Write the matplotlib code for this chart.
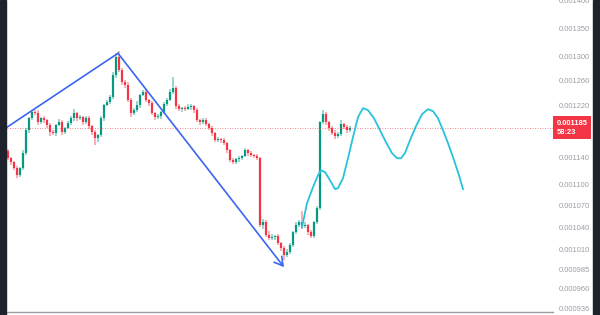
import numpy as np
import matplotlib.pyplot as plt
from matplotlib.patches import Rectangle
from matplotlib.ticker import FixedLocator, NullLocator
import matplotlib.transforms as mtransforms

plt.rcParams['font.family'] = ['Liberation Sans', 'DejaVu Sans']

# prices in units of 1e-6
first_open = 1150.0
closes = [
    1138.7, 1132.8, 1123.9, 1113.7, 1123.9, 1146.3, 1181.2, 1199.9, 1209.3, 1207.7,
    1193.6, 1199.9, 1196.8, 1189.0, 1178.1, 1176.6, 1189.0, 1193.6, 1178.1, 1184.4,
    1192.0, 1199.9, 1207.7, 1199.9, 1201.5, 1193.6, 1199.9, 1187.4, 1178.1, 1168.9,
    1173.5, 1199.9, 1220.5, 1225.2, 1233.3, 1269.2, 1299.5, 1277.6, 1257.7, 1252.8,
    1228.5, 1207.7, 1212.6, 1220.5, 1236.6, 1241.4, 1228.5, 1223.6, 1207.7, 1201.5,
    1203.1, 1209.3, 1222.0, 1228.5, 1241.4, 1247.9, 1218.9, 1214.2, 1215.8, 1214.2,
    1217.4, 1218.9, 1212.6, 1196.8, 1193.6, 1196.8, 1190.5, 1184.4, 1176.6, 1165.9,
    1167.4, 1165.9, 1161.4, 1150.8, 1135.9, 1132.8, 1137.4, 1138.7, 1141.8, 1150.8,
    1146.3, 1143.3, 1141.8, 1138.7, 1043.3, 1047.4, 1029.7, 1025.7, 1027.0, 1028.4,
    1019.0, 1012.4, 1003.1, 1007.1, 1016.3, 1033.8, 1043.3, 1047.4, 1042.0, 1043.3,
    1033.8, 1028.4, 1047.4, 1066.7, 1193.6, 1206.2, 1193.6, 1184.4, 1176.6, 1172.0,
    1175.0, 1190.5, 1185.9, 1181.2, 1185.0,
]
wick_hi = [
    3, 2, 2, 3, 2, 4, 3, 2, 4, 3,
    5, 2, 3, 2, 4, 3, 2, 5, 3, 2,
    3, 4, 6, 2, 3, 2, 4, 3, 2, 3,
    2, 3, 2, 4, 3, 5, 7, 10, 4, 3,
    5, 3, 4, 6, 2, 3, 6, 2, 3, 2,
    4, 2, 3, 4, 6, 18, 3, 4, 2, 3,
    5, 4, 2, 3, 2, 4, 3, 2, 3, 2,
    3, 2, 3, 2, 2, 3, 2, 4, 2, 4,
    2, 3, 2, 3, 2, 4, 3, 5, 4, 2,
    3, 2, 3, 4, 3, 2, 4, 3, 16, 4,
    2, 3, 2, 3, 2, 6, 3, 2, 3, 5,
    4, 6, 2, 3, 2,
]
wick_lo = [
    3, 4, 3, 4, 3, 2, 3, 4, 3, 3,
    4, 3, 5, 4, 6, 3, 4, 2, 5, 3,
    2, 3, 4, 5, 3, 4, 3, 4, 5, 10,
    5, 3, 4, 2, 3, 3, 4, 3, 5, 4,
    3, 6, 2, 3, 4, 2, 3, 5, 3, 4,
    3, 4, 2, 3, 2, 3, 4, 3, 5, 3,
    2, 4, 5, 3, 4, 3, 2, 3, 4, 3,
    3, 4, 3, 4, 3, 2, 3, 4, 3, 2,
    4, 3, 3, 2, 3, 5, 3, 2, 3, 4,
    3, 4, 6, 3, 2, 3, 2, 3, 4, 3,
    4, 3, 2, 3, 2, 3, 5, 4, 3, 4,
    3, 2, 3, 4, 3,
]

# drawings (bar index, price)
zig_x = [-0.33, 36.67, 92.0]
zig_y = [1185.9, 1306.3, 987.5]
proj_x = [98.0, 99.67, 101.67, 103.33, 104.33, 105.67, 107.33, 109.0, 110.0, 111.67,
          113.33, 115.0, 116.67, 118.33, 120.0, 122.0, 124.0, 126.0, 128.0, 129.67,
          131.0, 132.33, 134.0, 136.0, 138.0, 140.0, 141.67, 143.33, 145.0, 146.67,
          148.67, 150.33, 151.67]
proj_y = [1040.5, 1073.7, 1096.4, 1113.7, 1120.9, 1118.1, 1106.5, 1093.6, 1095.0, 1109.4,
          1138.7, 1170.5, 1201.5, 1215.8, 1212.6, 1199.9, 1181.2, 1162.8, 1146.3, 1138.7,
          1138.7, 1146.3, 1165.9, 1187.4, 1206.2, 1214.2, 1211.0, 1199.9, 1181.2, 1161.4,
          1135.9, 1113.7, 1093.6]

price_ticks = [1400, 1350, 1300, 1260, 1220, 1140, 1100, 1070, 1040, 1010, 985, 960, 936]
tick_labels = ['0.001400', '0.001350', '0.001300', '0.001260', '0.001220', '0.001140',
               '0.001100', '0.001070', '0.001040', '0.001010', '0.000985', '0.000960',
               '0.000936']
last_label = '0.001185'
timer_label = '58:23'

UP = '#089981'
DOWN = '#f23645'

fig = plt.figure(figsize=(6, 3.15), dpi=100)
fig.patch.set_facecolor('white')
ax = fig.add_axes([7 / 600, 3 / 315, 546 / 600, 312 / 315])
ax.set_yscale('log')

closes = np.array(closes)
opens = np.concatenate([[first_open], closes[:-1]])
x = np.arange(len(closes))
top = np.maximum(opens, closes)
bot = np.minimum(opens, closes)
highs = top + np.array(wick_hi)
lows = bot - np.array(wick_lo)
colors = [UP if c >= o else DOWN for o, c in zip(opens, closes)]

ax.vlines(x, lows, highs, colors=colors, lw=1.4, alpha=0.4)
ax.vlines(x, bot, np.maximum(top, bot + 0.8), colors=colors, lw=1.6)

ax.axhline(closes[-1], color=DOWN, lw=0.6, ls=(0, (1, 2)), alpha=0.8)

ax.plot(zig_x[:2], zig_y[:2], color='#3a66f0', lw=1.2, solid_capstyle='round')
ax.annotate('', xy=(zig_x[2], zig_y[2]), xytext=(zig_x[1], zig_y[1]),
            arrowprops=dict(arrowstyle='->,head_length=0.6,head_width=0.35',
                            color='#3a66f0', lw=1.2, shrinkA=0, shrinkB=0))
ax.plot(proj_x, proj_y, color='#27c3dc', lw=1.3)

ax.set_xlim(-0.333, 181.67)
ax.set_ylim(931.2, 1400.6)
ax.yaxis.tick_right()
ax.yaxis.set_major_locator(FixedLocator(price_ticks))
ax.yaxis.set_minor_locator(NullLocator())
ax.set_yticklabels(tick_labels)
ax.tick_params(axis='y', length=0, pad=4, labelsize=5.4, labelcolor='#9a9da6')
ax.set_xticks([])
for s in ['top', 'left', 'right']:
    ax.spines[s].set_visible(False)
ax.spines['bottom'].set_color('#9a9da6')
ax.spines['bottom'].set_linewidth(1.0)

trans = mtransforms.blended_transform_factory(ax.transAxes, ax.transData)
ax.text(1.0065, closes[-1], last_label + '\n' + timer_label, transform=trans,
        ha='left', va='center', fontsize=5.4, color='white', linespacing=1.3,
        fontweight='bold',
        bbox=dict(boxstyle='square,pad=0.5', fc=DOWN, ec='none'))

fig.patches.append(Rectangle((0, 0), 6 / 600, 1, transform=fig.transFigure,
                             color='#1e222d', zorder=10))
fig.patches.append(Rectangle((593 / 600, 0), 7 / 600, 1, transform=fig.transFigure,
                             color='#1e222d', zorder=10))

fig.savefig('out.png', dpi=100)
